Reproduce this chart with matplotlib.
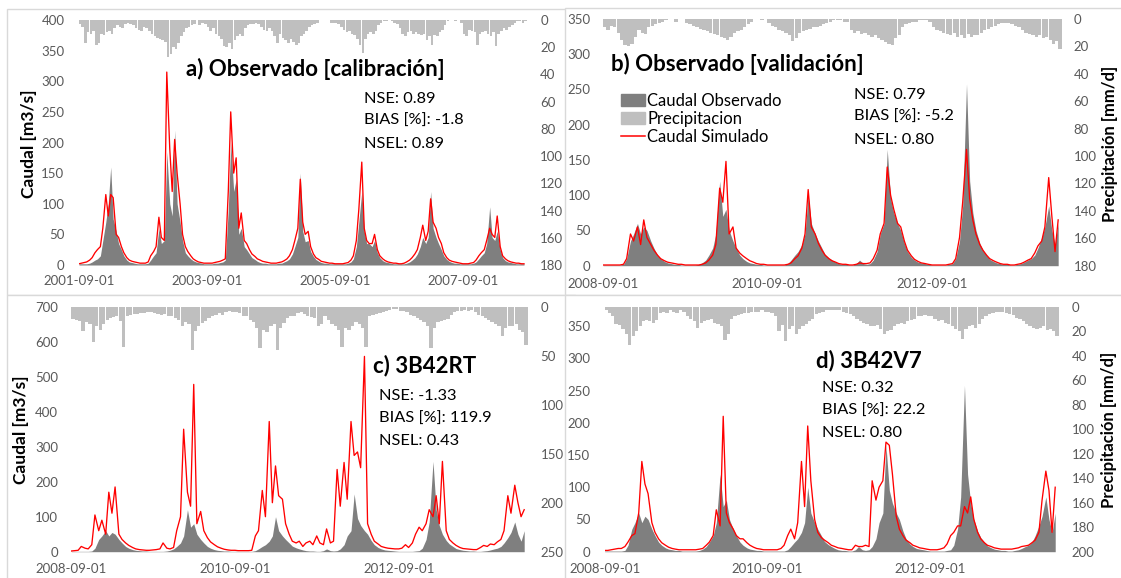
import numpy as np
import pandas as pd
import matplotlib
matplotlib.use('Agg')
import matplotlib.pyplot as plt
import matplotlib.dates as mdates
from matplotlib.patches import Rectangle, Patch
from matplotlib.lines import Line2D

plt.rcParams['font.family'] = ['Lato', 'DejaVu Sans']

# ---- data (semi-monthly values) ----
# calibration period, starting 2001-09-01
q_obs_cal = [2, 2, 2, 2, 3, 5, 8, 10, 15, 40, 70, 100, 160, 75, 55, 35, 25, 15, 8, 5, 4, 3, 2, 2,
             2, 2, 3, 8, 15, 20, 60, 35, 40, 185, 100, 80, 220, 100, 70, 40, 20, 15, 10, 7, 5, 4, 3, 2,
             2, 2, 2, 3, 3, 4, 5, 8, 90, 200, 120, 140, 50, 60, 30, 25, 18, 12, 9, 6, 4, 3, 3, 2,
             2, 2, 2, 3, 3, 5, 7, 10, 18, 30, 45, 150, 55, 38, 40, 22, 14, 9, 6, 4, 3, 3, 2, 2,
             2, 2, 2, 2, 2, 3, 5, 10, 30, 70, 120, 55, 35, 35, 30, 40, 20, 12, 7, 5, 4, 3, 2, 2,
             2, 2, 2, 3, 5, 8, 12, 18, 30, 45, 35, 45, 120, 60, 45, 35, 25, 15, 9, 6, 4, 3, 3, 2,
             2, 2, 2, 2, 3, 5, 10, 15, 20, 35, 95, 45, 40, 55, 25, 12, 7, 5, 4, 3, 2, 2, 2, 2]
q_sim_cal = [2, 3, 4, 5, 8, 12, 20, 25, 30, 60, 115, 80, 115, 110, 50, 45, 30, 20, 12, 8, 6, 5, 4, 3,
             3, 3, 5, 15, 22, 30, 78, 45, 40, 315, 190, 120, 205, 150, 100, 50, 30, 22, 15, 10, 7, 5, 4, 3,
             3, 3, 3, 4, 5, 6, 8, 10, 120, 250, 150, 175, 60, 85, 40, 35, 25, 18, 14, 10, 8, 6, 5, 4,
             3, 3, 3, 4, 5, 7, 10, 15, 25, 40, 60, 140, 70, 50, 55, 30, 18, 12, 9, 6, 5, 4, 3, 3,
             2, 2, 2, 2, 3, 4, 8, 15, 40, 90, 168, 60, 40, 35, 35, 50, 25, 15, 10, 7, 5, 4, 3, 3,
             2, 2, 3, 5, 8, 12, 18, 25, 45, 65, 40, 55, 108, 70, 60, 45, 35, 20, 12, 8, 6, 5, 4, 3,
             2, 2, 2, 3, 4, 8, 15, 20, 25, 40, 60, 50, 45, 80, 30, 15, 10, 7, 5, 4, 3, 3, 2, 2]
p_obs_cal = [3, 5, 17, 9, 10, 8, 18, 17, 10, 11, 9, 8, 10, 6, 4, 5, 6, 3, 2, 3, 4, 6, 7, 8,
             5, 6, 8, 10, 12, 13, 14, 15, 16, 27, 25, 20, 21, 17, 12, 9, 6, 5, 4, 3, 0, 4, 2, 3,
             5, 8, 6, 10, 12, 14, 19, 20, 17, 21, 15, 12, 10, 12, 6, 4, 3, 3, 2, 3, 5, 7, 8, 6,
             8, 12, 17, 10, 13, 15, 17, 14, 16, 18, 17, 12, 10, 8, 5, 4, 3, 2, 0, 0, 0, 0, 2, 2,
             2, 3, 5, 7, 9, 8, 10, 11, 14, 18, 24, 14, 10, 9, 10, 8, 4, 2, 1, 1, 0, 1, 2, 3,
             6, 10, 12, 9, 8, 10, 9, 10, 11, 10, 15, 12, 18, 11, 12, 9, 7, 4, 1, 0, 0, 1, 0, 2,
             10, 12, 7, 8, 9, 18, 10, 9, 8, 10, 12, 9, 19, 10, 8, 6, 7, 5, 4, 2, 1, 1, 2, 1]

# validation period, starting 2008-09-01 (observed flow shared by b, c, d)
q_obs_val = [1, 1, 1, 1, 1, 1, 2, 10, 35, 45, 60, 45, 55, 50, 35, 25, 15, 10, 6, 4, 3, 2, 2, 1,
             1, 1, 1, 1, 2, 4, 8, 15, 25, 45, 120, 70, 80, 50, 35, 25, 15, 10, 6, 4, 3, 2, 2, 1,
             1, 1, 1, 1, 1, 1, 3, 8, 15, 20, 30, 45, 100, 60, 45, 35, 25, 16, 11, 8, 5, 3, 2, 2,
             1, 1, 3, 8, 3, 2, 3, 8, 20, 45, 60, 165, 95, 75, 60, 50, 32, 20, 12, 8, 5, 4, 3, 2,
             1, 1, 1, 1, 1, 2, 3, 10, 35, 85, 258, 120, 75, 50, 32, 22, 15, 9, 6, 4, 3, 2, 2, 1,
             1, 2, 3, 5, 8, 10, 15, 25, 40, 55, 85, 50, 30, 60]
q_sim_obs = [1, 1, 1, 1, 1, 1, 2, 10, 45, 35, 55, 30, 65, 40, 30, 22, 15, 10, 7, 5, 4, 3, 2, 2,
             1, 1, 1, 1, 1, 2, 4, 8, 15, 30, 110, 90, 148, 45, 55, 25, 18, 14, 10, 7, 5, 3, 2, 2,
             1, 1, 1, 1, 1, 1, 2, 4, 10, 14, 25, 45, 108, 55, 45, 32, 22, 15, 10, 7, 5, 3, 2, 2,
             1, 1, 2, 4, 3, 3, 4, 10, 22, 45, 60, 140, 100, 80, 60, 55, 35, 22, 14, 9, 6, 4, 3, 2,
             1, 1, 1, 1, 1, 2, 3, 10, 40, 90, 165, 95, 65, 45, 30, 22, 15, 10, 7, 5, 3, 2, 2, 1,
             1, 2, 3, 5, 8, 10, 18, 28, 35, 55, 125, 70, 20, 65]
q_sim_rt = [2, 3, 4, 15, 10, 8, 20, 105, 60, 90, 50, 170, 110, 185, 50, 35, 25, 18, 12, 8, 6, 5, 4, 4,
            5, 6, 8, 25, 10, 8, 12, 60, 100, 350, 170, 130, 478, 80, 115, 60, 40, 28, 20, 14, 10, 7, 5, 4,
            4, 3, 3, 3, 3, 4, 45, 60, 175, 100, 372, 140, 245, 160, 150, 80, 50, 30, 25, 30, 15, 25, 30, 20,
            45, 25, 20, 65, 25, 30, 235, 130, 255, 150, 372, 275, 285, 240, 558, 80, 50, 30, 22, 15, 12, 10, 9, 8,
            8, 10, 20, 12, 25, 50, 70, 60, 80, 120, 100, 160, 80, 258, 60, 35, 25, 18, 12, 9, 8, 7, 6, 6,
            12, 18, 15, 22, 20, 28, 35, 60, 160, 110, 190, 140, 100, 120]
q_sim_v7 = [2, 2, 3, 4, 5, 5, 8, 15, 25, 28, 60, 140, 105, 90, 45, 30, 20, 14, 10, 7, 5, 4, 3, 3,
            3, 3, 3, 3, 4, 5, 10, 15, 25, 65, 40, 210, 60, 45, 35, 25, 20, 20, 14, 10, 7, 5, 4, 3,
            3, 3, 3, 3, 5, 10, 25, 35, 20, 45, 140, 70, 195, 110, 50, 30, 22, 18, 14, 10, 8, 6, 5, 4,
            3, 3, 10, 8, 8, 10, 8, 110, 80, 100, 110, 170, 165, 120, 55, 35, 25, 18, 14, 10, 8, 6, 5, 4,
            3, 3, 3, 4, 6, 12, 25, 30, 40, 40, 70, 60, 85, 50, 30, 20, 14, 10, 8, 6, 5, 4, 4, 4,
            4, 5, 6, 8, 9, 10, 14, 18, 30, 80, 125, 95, 30, 100]
p_obs_val = [6, 8, 5, 6, 10, 15, 19, 20, 18, 13, 8, 10, 11, 6, 5, 4, 3, 2, 1, 0, 0, 2, 0, 0,
             3, 4, 5, 6, 7, 8, 9, 10, 11, 12, 13, 14, 15, 13, 10, 9, 8, 6, 4, 2, 0, 0, 1, 0,
             3, 5, 6, 8, 9, 10, 12, 16, 14, 10, 9, 8, 7, 6, 6, 5, 4, 3, 2, 1, 1, 1, 2, 2,
             8, 10, 9, 11, 10, 12, 13, 12, 14, 15, 17, 18, 19, 14, 12, 6, 4, 3, 2, 2, 1, 1, 1, 2,
             6, 8, 9, 10, 11, 12, 10, 13, 12, 14, 11, 13, 12, 12, 10, 8, 7, 6, 5, 4, 3, 3, 3, 4,
             5, 6, 8, 10, 11, 12, 13, 12, 14, 13, 15, 18, 16, 22]
p_rt = [13, 14, 15, 25, 16, 18, 36, 20, 24, 18, 14, 12, 11, 10, 15, 41, 10, 8, 7, 7, 6, 6, 5, 5,
        6, 7, 8, 7, 9, 10, 12, 14, 20, 16, 18, 44, 25, 20, 17, 15, 12, 10, 8, 6, 8, 5, 4, 5,
        5, 6, 9, 10, 14, 16, 22, 42, 24, 26, 20, 18, 44, 22, 17, 12, 10, 9, 6, 5, 7, 10, 11, 12,
        20, 18, 10, 14, 18, 20, 24, 41, 22, 24, 20, 16, 18, 22, 41, 10, 8, 7, 6, 5, 4, 3, 2, 2,
        4, 4, 5, 8, 10, 12, 14, 16, 20, 42, 22, 16, 15, 14, 13, 8, 5, 4, 4, 3, 4, 3, 5, 8,
        10, 12, 14, 16, 18, 20, 30, 22, 20, 20, 18, 24, 26, 39]
p_v7 = [3, 5, 8, 14, 15, 18, 22, 31, 24, 20, 16, 12, 11, 12, 13, 11, 5, 4, 5, 3, 4, 5, 3, 4,
        8, 10, 12, 17, 13, 12, 11, 10, 13, 14, 16, 27, 22, 10, 8, 7, 6, 5, 5, 4, 4, 4, 3, 4,
        4, 5, 8, 20, 15, 28, 18, 16, 22, 18, 16, 14, 12, 10, 6, 5, 4, 3, 3, 3, 3, 3, 4, 5,
        6, 8, 10, 12, 13, 14, 16, 16, 15, 18, 22, 20, 19, 16, 14, 13, 14, 12, 11, 10, 8, 8, 7, 8,
        8, 10, 12, 11, 13, 14, 16, 18, 20, 26, 18, 16, 15, 17, 14, 10, 8, 6, 5, 4, 4, 4, 5, 6,
        7, 9, 10, 12, 14, 16, 17, 18, 17, 16, 19, 18, 20, 24]

ticks_cal = ['2001-09-01', '2003-09-01', '2005-09-01', '2007-09-01']
ticks_val = ['2008-09-01', '2010-09-01', '2012-09-01']

titles = ['a) Observado [calibración]', 'b) Observado [validación]', 'c) 3B42RT', 'd) 3B42V7']
stats = [['NSE: 0.89', 'BIAS [%]: -1.8', 'NSEL: 0.89'],
         ['NSE: 0.79', 'BIAS [%]: -5.2', 'NSEL: 0.80'],
         ['NSE: -1.33', 'BIAS [%]: 119.9', 'NSEL: 0.43'],
         ['NSE: 0.32', 'BIAS [%]: 22.2', 'NSEL: 0.80']]

x_cal = mdates.date2num(pd.date_range('2001-09-01', periods=len(q_obs_cal), freq='SMS'))
x_val = mdates.date2num(pd.date_range('2008-09-01', periods=len(q_obs_val), freq='SMS'))
end_cal = mdates.date2num(pd.Timestamp('2008-09-01'))
end_val = mdates.date2num(pd.Timestamp('2014-04-01'))

W, H = 1121, 578
fig = plt.figure(figsize=(W / 100, H / 100), dpi=100)

OBS = '#7f7f7f'
PREC = '#bfbfbf'
TXT = '#595959'


def fig_box(x0, y0, x1, y1):
    # pixel box (top-left origin) -> figure fraction
    return [x0 / W, 1 - y1 / H, (x1 - x0) / W, (y1 - y0) / H]


def panel(frame, box, x, obs, sim, pp, x_end, xticks, qtop, qmax, qstep, pmax, pstep, pads, z):
    fr = fig_box(*frame)
    fig.add_artist(Rectangle((fr[0], fr[1]), fr[2], fr[3], transform=fig.transFigure,
                             facecolor='white', edgecolor='#d9d9d9', lw=1, zorder=z))
    ax = fig.add_axes(fig_box(*box))
    ax.set_zorder(z + 1)
    ax.patch.set_visible(False)
    ax.fill_between(x, 0, obs, color=OBS, lw=0)
    ax.plot(x, sim, color='red', lw=0.95)
    ax.set_xlim(x[0], x_end)
    ax.set_ylim(0, qtop)
    ax.set_yticks(np.arange(0, qmax + 1, qstep))
    ax.set_xticks(mdates.date2num(pd.to_datetime(xticks)))
    ax.xaxis.set_major_formatter(mdates.DateFormatter('%Y-%m-%d'))
    ax.tick_params(axis='y', length=0, labelsize=9.5, colors=TXT, pad=pads[0])
    ax.tick_params(axis='x', length=0, labelsize=9.5, colors=TXT, pad=pads[2])

    ax2 = ax.twinx()
    ax2.set_zorder(z + 1.5)
    ax2.bar(x, pp, width=15.2, align='edge', color=PREC, lw=0)
    ax2.set_ylim(pmax, 0)
    ax2.set_yticks(np.arange(0, pmax + 1, pstep))
    ax2.tick_params(axis='y', length=0, labelsize=9.5, colors=TXT, pad=pads[1])
    for a in (ax, ax2):
        for s in a.spines.values():
            s.set_visible(False)
    return ax, ax2


ax_a, _ = panel((7, 9, 575, 295), (79, 20, 527, 265), x_cal, q_obs_cal, q_sim_cal, p_obs_cal,
                end_cal, ticks_cal, 400, 400, 50, 180, 20, (10.5, 9.5, 7.5), 0)
ax_b, ax_b2 = panel((565, 8, 1135, 295), (603, 19, 1062, 265.7), x_val, q_obs_val, q_sim_obs, p_obs_val,
                    end_val, ticks_val, 350, 350, 50, 180, 20, (9, 8.2, 9), 2)
ax_c, _ = panel((7, 295, 575, 590), (71.4, 306.7, 528, 551.7), x_val, q_obs_val, q_sim_rt, p_rt,
                end_val, ticks_val, 700, 700, 100, 250, 50, (9.6, 9, 8), 4)
ax_d, _ = panel((565, 295, 1135, 590), (604.6, 306.7, 1059, 551.7), x_val, q_obs_val, q_sim_v7, p_v7,
                end_val, ticks_val, 380, 350, 50, 200, 20, (10.2, 9, 8), 6)

# titles and statistics (pixel positions of baselines)
title_pos = [(186, 76), (611, 71), (373, 372.7), (816, 367.3)]
stats_pos = [(364, 102.7), (854, 98.7), (379, 400), (822, 392)]
for t, (tx, ty) in zip(titles, title_pos):
    fig.text(tx / W, 1 - ty / H, t, fontsize=16, fontweight='bold', va='baseline', zorder=20)
for st, (sx, sy) in zip(stats, stats_pos):
    for k, line in enumerate(st):
        fig.text(sx / W, 1 - (sy + 22.5 * k) / H, line, fontsize=11.8, va='baseline', zorder=20)

# axis titles
fig.text(28.6 / W, 1 - 144 / H, 'Caudal [m3/s]', rotation=90, fontsize=12.5, fontweight='bold',
         ha='center', va='center', zorder=20)
fig.text(21.4 / W, 1 - 430 / H, 'Caudal [m3/s]', rotation=90, fontsize=12.5, fontweight='bold',
         ha='center', va='center', zorder=20)
fig.text(1110 / W, 1 - 143.5 / H, 'Precipitación [mm/d]', rotation=90, fontsize=12, fontweight='bold',
         ha='center', va='center', zorder=20)
fig.text(1109 / W, 1 - 430 / H, 'Precipitación [mm/d]', rotation=90, fontsize=12, fontweight='bold',
         ha='center', va='center', zorder=20)

# legend in panel b
handles = [Patch(color=OBS), Patch(color=PREC), Line2D([], [], color='red', lw=1.1)]
ax_b2.legend(handles, ['Caudal Observado', 'Precipitacion', 'Caudal Simulado'],
             loc='upper left', bbox_to_anchor=(621 / W, 1 - 93 / H), bbox_transform=fig.transFigure,
             frameon=False, fontsize=12, handlelength=1.45, handletextpad=0.12, labelspacing=0.12,
             borderpad=0, borderaxespad=0)

fig.savefig('out.png', dpi=100)
